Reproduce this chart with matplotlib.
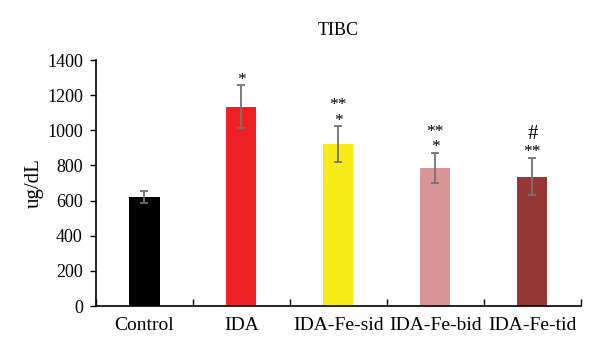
import numpy as np
import matplotlib
matplotlib.use("Agg")
import matplotlib.pyplot as plt

# данные
groups = ["Control", "IDA", "IDA-Fe-sid", "IDA-Fe-bid", "IDA-Fe-tid"]
means = [620, 1135, 922, 787, 737]
errors = [36, 121, 102, 85, 106]
marks = [[], ["*"], ["*", "**"], ["*", "**"], ["**", "#"]]
colors = ["#000000", "#ED2024", "#F6EB16", "#D99594", "#953735"]

plt.rcParams["font.family"] = ["Liberation Serif", "DejaVu Serif"]

fig = plt.figure(figsize=(6, 3.53), dpi=100)
ax = fig.add_axes([0.16, 0.133, 0.808, 0.697])

x = np.arange(len(groups))
ax.bar(x, means, width=0.31, color=colors, zorder=2)
ax.errorbar(x, means, yerr=errors, fmt="none", ecolor="#727272",
            elinewidth=1.3, capsize=3, capthick=1.3, zorder=3)

# значки значущості над планками похибок (зсув у пікселях)
for i in range(len(groups)):
    top = means[i] + errors[i]
    for k, m in enumerate(marks[i]):
        if m == "#":
            size, dy = 15, 19
        else:
            size, dy = 12.5, 1.5 + 15.5 * k
        ax.annotate(m, (x[i], top), xytext=(0, dy), textcoords="offset pixels",
                    ha="center", va="baseline", fontsize=size)

ax.set_xlim(-0.5, len(groups) - 0.5)
ax.set_ylim(0, 1400)
ax.set_yticks(np.arange(0, 1401, 200))
ax.set_xticks(x)
ax.set_xticklabels(groups)
ax.set_xticks(np.arange(-0.5, len(groups)), minor=True)
ax.tick_params(axis="x", which="major", length=0, pad=8, labelsize=14)
ax.tick_params(axis="x", which="minor", length=5, width=1, direction="in")
ax.tick_params(axis="y", length=4.5, width=1, labelsize=13, pad=5)

for s in ["top", "right"]:
    ax.spines[s].set_visible(False)
for s in ["left", "bottom"]:
    ax.spines[s].set_linewidth(1.2)

ax.set_ylabel("ug/dL", fontsize=15, labelpad=2)
ax.set_title("TIBC", fontsize=13, pad=18)

fig.savefig("out.png", dpi=100)
